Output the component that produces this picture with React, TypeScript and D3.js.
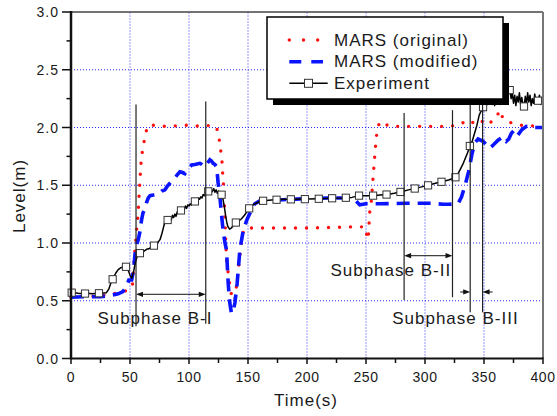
import React from "react";
import * as d3 from "d3";

// ---------- data ----------
const xTicks = [0, 50, 100, 150, 200, 250, 300, 350, 400];
const yTicks = [0.0, 0.5, 1.0, 1.5, 2.0, 2.5, 3.0];
const xMinor = [25, 75, 125, 175, 225, 275, 325, 375];
const yMinor = [0.25, 0.75, 1.25, 1.75, 2.25, 2.75];

const seriesNames = ["MARS (original)", "MARS (modified)", "Experiment"];

const marsOriginal: [number, number][] = [
  [0, 0.53], [10, 0.54], [20, 0.54], [30, 0.55], [40, 0.57], [48, 0.59], [52, 0.62],
  [54, 0.92], [55.6, 1.11], [57, 1.27], [57.8, 1.43], [58.5, 1.55], [59, 1.65], [59.8, 1.75],
  [61.8, 1.87], [63.5, 1.96], [65.5, 2.02], [70, 2.02], [80, 2.01], [100, 2.02], [110, 2.01],
  [120, 2.02], [123.4, 2.0], [125.3, 1.92], [127, 1.79], [128.1, 1.69], [128.7, 1.57],
  [129.6, 1.46], [130.5, 1.2], [131.8, 0.85], [134, 0.68], [136, 0.55], [137.5, 0.5],
  [139, 0.52], [141, 0.7], [143, 0.88], [144.5, 1.0], [146, 1.1], [148, 1.13], [160, 1.13],
  [200, 1.13], [240, 1.14], [249, 1.14], [250.4, 1.08], [251.8, 1.03], [253.2, 1.27],
  [254.6, 1.37], [256, 1.57], [257.4, 1.75], [258.3, 1.86], [259.4, 1.98], [261.7, 2.05],
  [264.5, 2.04], [270, 2.01], [300, 2.01], [320, 2.01], [328, 2.02], [332, 2.04], [335, 2.06],
  [340, 2.04], [344, 2.07], [348, 2.05], [352, 2.07], [355, 2.04], [360, 2.08], [363.5, 2.15],
  [366, 2.08], [370, 2.05], [380, 2.02], [400, 2.01],
];

const marsModified: [number, number][] = [
  [0, 0.53], [10, 0.535], [20, 0.535], [25, 0.535], [30, 0.54], [35, 0.55], [40, 0.56],
  [44, 0.58], [47, 0.62], [49, 0.68], [51.4, 0.68], [53, 0.76], [54.2, 0.9], [55.5, 0.98],
  [57, 1.03], [58.5, 1.1], [59.8, 1.2], [61, 1.26], [62.7, 1.3], [64, 1.35], [65.5, 1.39],
  [67, 1.41], [69.7, 1.415], [72, 1.42], [74.8, 1.43], [77, 1.45], [79.6, 1.46], [81.5, 1.49],
  [83.8, 1.517], [86, 1.54], [88, 1.56], [90, 1.59], [92.3, 1.617], [94.5, 1.61], [96.5, 1.6],
  [99, 1.64], [102.2, 1.675], [105, 1.68], [109.2, 1.69], [111, 1.68], [113.5, 1.66],
  [115.5, 1.69], [117.7, 1.72], [119, 1.71], [120.5, 1.69], [122, 1.68], [123.4, 1.66],
  [124.7, 1.52], [126.2, 1.4], [127.5, 1.25], [129, 1.1], [130.5, 1.0], [131.8, 0.94],
  [133.2, 0.65], [134.6, 0.48], [136, 0.39], [137.5, 0.42], [138.9, 0.48], [140.8, 0.65],
  [143.1, 0.94], [146, 1.11], [149, 1.2], [151.6, 1.257], [155.8, 1.34], [160, 1.365],
  [171.3, 1.372], [180, 1.375], [191, 1.38], [200, 1.385], [210.9, 1.387], [220, 1.39],
  [233, 1.39], [240, 1.38], [244.7, 1.33], [250, 1.34], [261.7, 1.34], [284.3, 1.344],
  [306.9, 1.344], [315.3, 1.335], [320, 1.335], [328, 1.34], [331, 1.4], [334, 1.5],
  [337, 1.62], [340, 1.78], [342.5, 1.87], [345, 1.9], [349.2, 1.88], [352, 1.85],
  [354.9, 1.82], [358, 1.85], [361.9, 1.89], [366.1, 1.92], [368.9, 1.88], [371, 1.9],
  [373.2, 1.95], [376, 1.98], [378.8, 1.935], [382, 1.98], [385.9, 2.01], [392, 2.0], [400, 2.0],
];

const experiment: [number, number][] = [
  [0, 0.57], [3, 0.57], [6, 0.565], [10, 0.56], [14, 0.565], [18, 0.56], [22, 0.565], [26, 0.565],
  [30, 0.57], [32, 0.6], [34, 0.66], [36, 0.7], [38, 0.74], [40, 0.77], [42, 0.785], [44, 0.79],
  [46, 0.8], [48, 0.78], [50, 0.72], [51.5, 0.695], [53, 0.75], [54.5, 0.83], [56, 0.88],
  [58, 0.91], [60, 0.92], [62, 0.93], [64, 0.945], [66, 0.95], [68, 0.965], [70, 0.975],
  [72, 0.99], [74, 1.01], [75.5, 1.03], [77, 1.08], [78, 1.12], [79.5, 1.18], [81, 1.19],
  [82, 1.2], [83, 1.19], [84, 1.22], [85, 1.2], [86, 1.24], [87, 1.22], [88, 1.25], [89, 1.23],
  [90, 1.27], [91, 1.26], [92, 1.28], [93, 1.285], [94, 1.27], [95, 1.3], [96, 1.29], [97, 1.32],
  [98, 1.3], [99, 1.33], [100, 1.32], [101, 1.34], [102, 1.33], [103, 1.35], [104, 1.34],
  [105, 1.36], [106, 1.37], [107, 1.36], [108, 1.39], [109, 1.38], [110, 1.4], [111, 1.39],
  [112, 1.42], [113, 1.41], [114, 1.44], [115, 1.42], [116, 1.45], [117, 1.44], [118, 1.46],
  [119, 1.44], [120, 1.45], [121, 1.47], [122, 1.44], [123, 1.46], [124, 1.43], [125, 1.45],
  [126, 1.42], [127, 1.43], [128, 1.41], [129, 1.37], [130, 1.31], [131, 1.24], [132, 1.18],
  [133, 1.14], [134.5, 1.12], [136, 1.13], [138, 1.16], [140, 1.18], [142, 1.19], [144.5, 1.21],
  [147, 1.24], [149, 1.27], [151, 1.3], [153, 1.32], [156, 1.34], [159, 1.355], [163, 1.366],
  [170, 1.372], [180, 1.378], [190, 1.378], [200, 1.38], [210, 1.383], [220, 1.387], [230, 1.39],
  [238, 1.395], [244, 1.41], [250, 1.41], [256, 1.41], [262, 1.415], [268, 1.42], [274, 1.43],
  [280, 1.444], [286, 1.46], [292, 1.473], [298, 1.488], [303, 1.5], [308, 1.515], [314, 1.53],
  [320, 1.545], [324, 1.56], [326, 1.57], [328, 1.6], [330, 1.64], [332, 1.68], [334, 1.73],
  [336, 1.78], [338, 1.84], [340, 1.88], [342, 1.95], [344, 2.02], [346, 2.11], [348, 2.15],
  [349, 2.17], [350, 2.2], [351, 2.19], [352, 2.24], [353, 2.2], [354, 2.26], [355, 2.21],
  [356, 2.27], [357, 2.2], [358, 2.25], [359, 2.19], [360, 2.28], [361, 2.22], [362, 2.3],
  [363, 2.24], [364, 2.2], [365, 2.29], [366, 2.22], [367, 2.31], [368, 2.24], [369, 2.33],
  [370, 2.26], [371, 2.34], [372, 2.32], [373, 2.25], [374, 2.3], [375, 2.21], [376, 2.28],
  [377, 2.19], [378, 2.27], [379, 2.22], [380, 2.3], [381, 2.2], [382, 2.26], [383, 2.2],
  [384, 2.18], [385, 2.27], [386, 2.2], [387, 2.3], [388, 2.22], [389, 2.28], [390, 2.19],
  [391, 2.25], [392, 2.21], [393, 2.29], [394, 2.23], [395, 2.24], [396, 2.23], [397, 2.28],
  [398, 2.2], [399, 2.26], [400, 2.25],
];

// times at which the square markers sit on the experiment curve
const experimentMarkerTimes = [
  0.6, 11.9, 23.7, 35.3, 46.6, 58.4, 70.3, 81.9, 93.2, 105, 116.3, 127.6, 139.7, 151, 162.8,
  174.2, 186.3, 198.2, 210, 221.3, 232.9, 244.1, 256, 267.4, 279.2, 291.3, 302.6, 314, 325.8,
  338, 349.2, 360.5, 371.8, 383.9, 395.8,
];

// subphase annotations: boundaries (s), labels
const subphaseLabels = ["Subphase B-I", "Subphase B-II", "Subphase B-III"];
const subphaseBounds: [number, number][] = [[55.1, 114.2], [282.3, 323.3], [338.3, 348.8]];

// ---------- layout ----------
const W = 557;
const H = 416;
const FONT = "'Liberation Sans', Arial, Helvetica, sans-serif";
const TXT = "#1a1a1a";

function interp(data: [number, number][], t: number): number {
  const i = d3.bisector((d: [number, number]) => d[0]).left(data, t);
  if (i <= 0) return data[0][1];
  if (i >= data.length) return data[data.length - 1][1];
  const [x0, y0] = data[i - 1];
  const [x1, y1] = data[i];
  return y0 + ((t - x0) / (x1 - x0)) * (y1 - y0);
}

function Arrow({ x, y, dir }: { x: number; y: number; dir: number }) {
  return (
    <polygon
      points={`${x},${y} ${x - dir * 7},${y - 2.6} ${x - dir * 7},${y + 2.6}`}
      fill="#111"
    />
  );
}

export default function App() {
  const x = d3.scaleLinear().domain([0, 400]).range([71, 543]);
  const y = d3.scaleLinear().domain([0, 3]).range([358.5, 12]);
  const line = d3
    .line<[number, number]>()
    .x((d) => x(d[0]))
    .y((d) => y(d[1]));

  const gridX = xTicks.filter((t) => t > 0 && t < 400);
  const gridY = yTicks.filter((t) => t > 0 && t < 3);

  const [b1, b2, b3] = subphaseBounds;

  return (
    <svg
      width={W}
      height={H}
      viewBox={`0 0 ${W} ${H}`}
      style={{ position: "absolute", left: 0, top: 0, background: "#fff" }}
      fontFamily={FONT}
    >
      <rect x={0} y={0} width={W} height={H} fill="#fff" />
      {/* grid */}
      {gridX.map((t) => (
        <line key={"gx" + t} x1={x(t)} x2={x(t)} y1={y(0)} y2={y(3)} stroke="#2a2aff" strokeWidth={1} strokeDasharray="1 2" />
      ))}
      {gridY.map((t) => (
        <line key={"gy" + t} x1={x(0)} x2={x(400)} y1={y(t)} y2={y(t)} stroke="#2a2aff" strokeWidth={1} strokeDasharray="1 2" />
      ))}

      {/* series */}
      <path d={line(marsOriginal) || ""} fill="none" stroke="#ff1010" strokeWidth={3.4} strokeLinecap="round" strokeDasharray="0 11" />
      <path d={line(marsModified) || ""} fill="none" stroke="#0a14ff" strokeWidth={3.6} strokeDasharray="13 8" />
      <path d={line(experiment) || ""} fill="none" stroke="#000" strokeWidth={1.5} strokeLinejoin="round" />
      {experimentMarkerTimes.map((t, i) => (
        <rect key={"m" + i} x={x(t) - 3.6} y={y(interp(experiment, t)) - 3.6} width={7.2} height={7.2} fill="#fff" stroke="#333" strokeWidth={1} />
      ))}

      {/* subphase annotations */}
      <g stroke="#222" strokeWidth={1.2}>
        <line x1={x(b1[0])} x2={x(b1[0])} y1={y(2.2)} y2={y(0.28)} />
        <line x1={x(b1[1])} x2={x(b1[1])} y1={y(2.225)} y2={y(0.3)} />
        <line x1={x(b2[0])} x2={x(b2[0])} y1={y(2.125)} y2={y(0.506)} />
        <line x1={x(b2[1])} x2={x(b2[1])} y1={y(2.15)} y2={y(0.53)} />
        <line x1={x(b3[0])} x2={x(b3[0])} y1={y(2.4)} y2={y(0.4)} />
        <line x1={x(b3[1])} x2={x(b3[1])} y1={y(2.4)} y2={y(0.4)} />
      </g>
      <g stroke="#111" strokeWidth={1}>
        <line x1={x(b1[0]) + 5} x2={x(b1[1]) - 5} y1={y(0.556)} y2={y(0.556)} />
        <line x1={x(b2[0]) + 5} x2={x(b2[1]) - 5} y1={y(0.89)} y2={y(0.89)} />
        <line x1={x(b3[0]) - 10} x2={x(b3[0]) - 4} y1={y(0.576)} y2={y(0.576)} />
        <line x1={x(b3[1]) + 4} x2={x(b3[1]) + 10} y1={y(0.576)} y2={y(0.576)} />
      </g>
      <Arrow x={x(b1[0])} y={y(0.556)} dir={-1} />
      <Arrow x={x(b1[1])} y={y(0.556)} dir={1} />
      <Arrow x={x(b2[0])} y={y(0.89)} dir={-1} />
      <Arrow x={x(b2[1])} y={y(0.89)} dir={1} />
      <Arrow x={x(b3[0])} y={y(0.576)} dir={1} />
      <Arrow x={x(b3[1])} y={y(0.576)} dir={-1} />
      <g fontSize={17} fill={TXT} textAnchor="middle" style={{ letterSpacing: "1px" }}>
        <text x={x(71.1)} y={y(0.3)}>{subphaseLabels[0]}</text>
        <text x={x(271)} y={y(0.714)}>{subphaseLabels[1]}</text>
        <text x={x(325.8)} y={y(0.3)}>{subphaseLabels[2]}</text>
      </g>

      {/* frame */}
      <line x1={x(0)} x2={x(400)} y1={y(3)} y2={y(3)} stroke="#444" strokeWidth={1.6} />
      <line x1={x(400)} x2={x(400)} y1={y(3)} y2={y(0)} stroke="#777" strokeWidth={2} />
      <line x1={x(0)} x2={x(400)} y1={y(0)} y2={y(0)} stroke="#111" strokeWidth={2} />
      <line x1={x(0)} x2={x(0)} y1={y(3) - 1} y2={y(0) + 1} stroke="#111" strokeWidth={2.5} />

      {/* ticks */}
      {yTicks.map((t) => (
        <line key={"yt" + t} x1={x(0) - 9} x2={x(0)} y1={y(t)} y2={y(t)} stroke="#111" strokeWidth={1.5} />
      ))}
      {yMinor.map((t) => (
        <line key={"ym" + t} x1={x(0) - 4.5} x2={x(0)} y1={y(t)} y2={y(t)} stroke="#111" strokeWidth={1.5} />
      ))}
      {xTicks.map((t) => (
        <line key={"xt" + t} x1={x(t)} x2={x(t)} y1={y(0) - 1} y2={y(0) + 5.5} stroke="#111" strokeWidth={1.5} />
      ))}
      {xMinor.map((t) => (
        <line key={"xm" + t} x1={x(t)} x2={x(t)} y1={y(0)} y2={y(0) + 4.5} stroke="#111" strokeWidth={1.5} />
      ))}

      {/* tick labels */}
      <g fontSize={14} fill={TXT}>
        {yTicks.map((t) => (
          <text key={"yl" + t} x={59} y={y(t)} textAnchor="end" dominantBaseline="central" style={{ letterSpacing: "1px" }}>
            {d3.format(".1f")(t)}
          </text>
        ))}
        {xTicks.map((t) => (
          <text key={"xl" + t} x={x(t)} y={382} textAnchor="middle" style={{ letterSpacing: "0.5px" }}>
            {t}
          </text>
        ))}
      </g>

      {/* axis titles */}
      <text x={306} y={406} fontSize={17} fill={TXT} textAnchor="middle" style={{ letterSpacing: "1px" }}>Time(s)</text>
      <text transform="translate(25,196) rotate(-90)" fontSize={17} fill={TXT} textAnchor="middle" style={{ letterSpacing: "1px" }}>Level(m)</text>

      {/* legend */}
      <rect x={273} y={23} width={236} height={82} fill="#000" />
      <rect x={267} y={17} width={236} height={82} fill="#fff" stroke="#000" strokeWidth={1.5} />
      <line x1={289.3} x2={320} y1={40} y2={40} stroke="#ff1010" strokeWidth={3.4} strokeLinecap="round" strokeDasharray="0 14.2" />
      <line x1={289.3} x2={323} y1={61.7} y2={61.7} stroke="#0a14ff" strokeWidth={3.6} strokeDasharray="12 10" />
      <line x1={289.3} x2={327.7} y1={83.3} y2={83.3} stroke="#000" strokeWidth={1.5} />
      <rect x={308.5 - 4} y={83.3 - 4} width={8} height={8} fill="#fff" stroke="#333" strokeWidth={1} />
      <g fontSize={17} fill={TXT} style={{ letterSpacing: "1px" }}>
        <text x={334} y={45.5}>{seriesNames[0]}</text>
        <text x={334} y={67.2}>{seriesNames[1]}</text>
        <text x={334} y={88.8}>{seriesNames[2]}</text>
      </g>
    </svg>
  );
}
